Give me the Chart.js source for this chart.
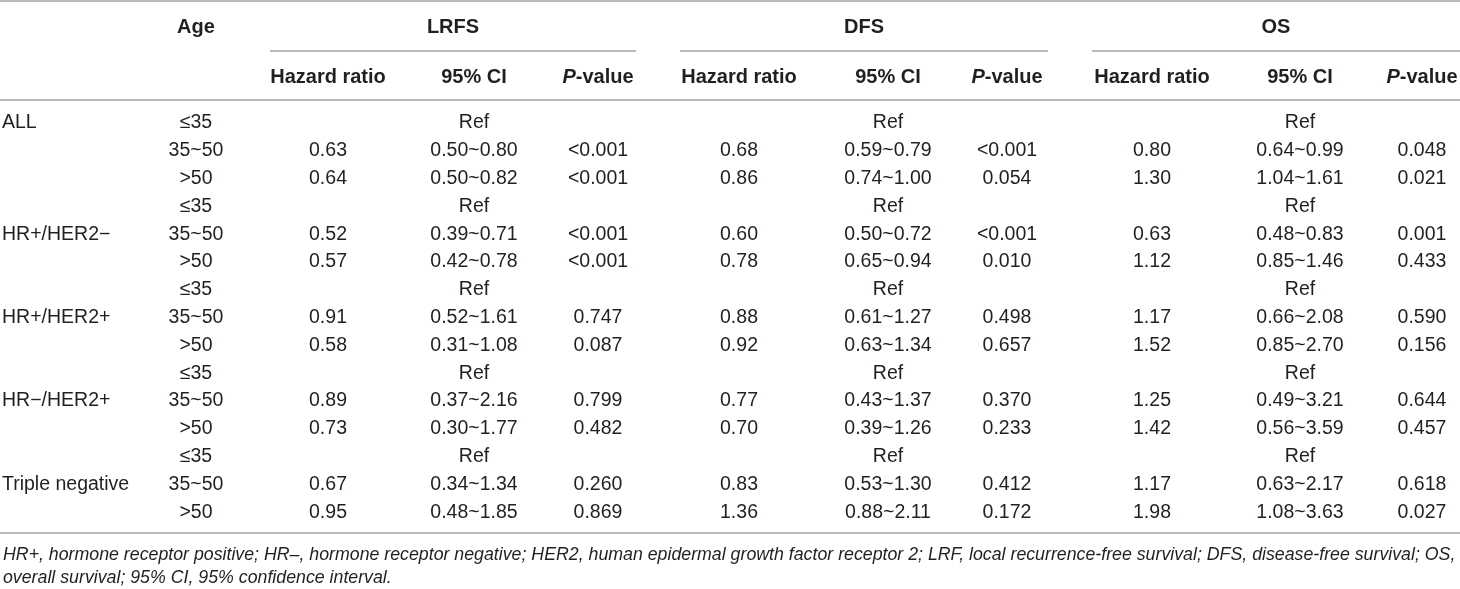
<!DOCTYPE html>
<html><head><meta charset="utf-8">
<script src="https://cdn.jsdelivr.net/npm/chart.js@4.4.1/dist/chart.umd.min.js"></script>
<style>html,body{margin:0;padding:0;background:#fff}#wrap{width:1460px;height:589px;position:relative}</style>
</head><body><div id="wrap"><canvas id="c"></canvas></div>
<script>
// ---- data ----
const groups = ["ALL", "HR+/HER2\u2212", "HR+/HER2+", "HR\u2212/HER2+", "Triple negative"];
const ageLevels = ["\u226435", "35~50", ">50"];
const outcomes = ["LRFS", "DFS", "OS"];
const subHeaders = ["Hazard ratio", "95% CI", "P-value"];
const refLabel = "Ref";
// per group: [35~50, >50]
const lrfsHR = [[0.63,0.64],[0.52,0.57],[0.91,0.58],[0.89,0.73],[0.67,0.95]];
const lrfsCI = [["0.50~0.80","0.50~0.82"],["0.39~0.71","0.42~0.78"],["0.52~1.61","0.31~1.08"],["0.37~2.16","0.30~1.77"],["0.34~1.34","0.48~1.85"]];
const lrfsP  = [["<0.001","<0.001"],["<0.001","<0.001"],["0.747","0.087"],["0.799","0.482"],["0.260","0.869"]];
const dfsHR  = [[0.68,0.86],[0.60,0.78],[0.88,0.92],[0.77,0.70],[0.83,1.36]];
const dfsCI  = [["0.59~0.79","0.74~1.00"],["0.50~0.72","0.65~0.94"],["0.61~1.27","0.63~1.34"],["0.43~1.37","0.39~1.26"],["0.53~1.30","0.88~2.11"]];
const dfsP   = [["<0.001","0.054"],["<0.001","0.010"],["0.498","0.657"],["0.370","0.233"],["0.412","0.172"]];
const osHR   = [[0.80,1.30],[0.63,1.12],[1.17,1.52],[1.25,1.42],[1.17,1.98]];
const osCI   = [["0.64~0.99","1.04~1.61"],["0.48~0.83","0.85~1.46"],["0.66~2.08","0.85~2.70"],["0.49~3.21","0.56~3.59"],["0.63~2.17","1.08~3.63"]];
const osP    = [["0.048","0.021"],["0.001","0.433"],["0.590","0.156"],["0.644","0.457"],["0.618","0.027"]];
const footnote = [
  "HR+, hormone receptor positive; HR\u2013, hormone receptor negative; HER2, human epidermal growth factor receptor 2; LRF, local recurrence-free survival; DFS, disease-free survival; OS,",
  "overall survival; 95% CI, 95% confidence interval."
];

// ---- layout (positions / styles) ----
const W = 1460, H = 589;
const FONT = '"Liberation Sans",Arial,Helvetica,sans-serif';
const FS = 19.5, FSB = 20;
const TXT = '#231f20', RULE = '#a3a3a3';
const colAge = 196;
const colX = [[328,474,598],[739,888,1007],[1152,1300,1422]];
const groupLine = [[270,636],[680,1048],[1092,1460]];
const rowY0 = 123, rowH = 27.8;
const yHead = 27, yGroupLine = 51, ySub = 77, yHeadLine = 100, yBottom = 533;
const yFoot0 = 555, footH = 23, footRight = 1456;

const series = [[lrfsHR,lrfsCI,lrfsP],[dfsHR,dfsCI,dfsP],[osHR,osCI,osP]];

const cells = [];
function add(x,y,text,style,align){cells.push({x,y,text,style:style||'n',align:align||'center'});}
add(colAge, yHead, "Age", 'b');
outcomes.forEach((o,k)=>{
  add((groupLine[k][0]+groupLine[k][1])/2, yHead, o, 'b');
  subHeaders.forEach((s,j)=>add(colX[k][j], ySub, s, j===2?'pv':'b'));
});
groups.forEach((g,gi)=>{
  ageLevels.forEach((a,ai)=>{
    const r = gi*3+ai, y = rowY0 + r*rowH;
    add(colAge, y, a);
    if ((gi===0 && ai===0) || (gi>0 && ai===1)) add(2, y, g, 'n', 'left');
    if (ai===0) { outcomes.forEach((o,k)=>add(colX[k][1], y, refLabel)); }
    else {
      series.forEach((ser,k)=>{
        add(colX[k][0], y, ser[0][gi][ai-1].toFixed(2));
        add(colX[k][1], y, ser[1][gi][ai-1]);
        add(colX[k][2], y, ser[2][gi][ai-1]);
      });
    }
  });
});
footnote.forEach((t,i)=>add(3, yFoot0+i*footH, t, 'i', 'left'));

const rules = [
  {x0:0,x1:W,y:1},
  {x0:groupLine[0][0],x1:groupLine[0][1],y:yGroupLine},
  {x0:groupLine[1][0],x1:groupLine[1][1],y:yGroupLine},
  {x0:groupLine[2][0],x1:groupLine[2][1],y:yGroupLine},
  {x0:0,x1:W,y:yHeadLine},
  {x0:0,x1:W,y:yBottom}
];

const tablePlugin = {
  id:'tablePlugin',
  afterDatasetsDraw(chart){
    const ctx = chart.ctx, xs = chart.scales.x, ys = chart.scales.y;
    ctx.save();
    ctx.strokeStyle = RULE; ctx.lineWidth = 1.4;
    rules.forEach(r=>{
      ctx.beginPath();
      ctx.moveTo(xs.getPixelForValue(r.x0), ys.getPixelForValue(r.y));
      ctx.lineTo(xs.getPixelForValue(r.x1), ys.getPixelForValue(r.y));
      ctx.stroke();
    });
    // footnote size fitted to the reference line length
    ctx.font = 'italic 17px ' + FONT;
    const fw = ctx.measureText(footnote[0]).width;
    const FSI = 17 * (footRight - 3) / fw;
    const meta = chart.getDatasetMeta(0);
    ctx.fillStyle = TXT; ctx.textBaseline = 'middle';
    meta.data.forEach((el,i)=>{
      const c = cells[i];
      const px = el.x, py = el.y;
      ctx.textAlign = c.align;
      if (c.style==='pv') {
        ctx.font = 'italic bold '+FSB+'px '+FONT;
        const w1 = ctx.measureText('P').width;
        ctx.font = 'bold '+FSB+'px '+FONT;
        const w2 = ctx.measureText('-value').width;
        const left = px - (w1+w2)/2;
        ctx.textAlign='left';
        ctx.font = 'italic bold '+FSB+'px '+FONT; ctx.fillText('P', left, py);
        ctx.font = 'bold '+FSB+'px '+FONT; ctx.fillText('-value', left+w1, py);
        return;
      }
      if (c.style==='b') ctx.font = 'bold '+FSB+'px '+FONT;
      else if (c.style==='i') ctx.font = 'italic '+FSI.toFixed(2)+'px '+FONT;
      else ctx.font = FS+'px '+FONT;
      ctx.fillText(c.text, px, py);
    });
    ctx.restore();
  }
};

new Chart(document.getElementById('c'), {
  type:'scatter',
  data:{datasets:[{data:cells.map(c=>({x:c.x,y:c.y})), pointRadius:0, pointHoverRadius:0, showLine:false}]},
  options:{
    responsive:true, maintainAspectRatio:false, animation:false,
    layout:{padding:0},
    plugins:{legend:{display:false}, tooltip:{enabled:false}},
    events:[],
    scales:{
      x:{type:'linear', min:0, max:W, display:false},
      y:{type:'linear', min:0, max:H, reverse:true, display:false}
    }
  },
  plugins:[tablePlugin]
});
</script></body></html>
